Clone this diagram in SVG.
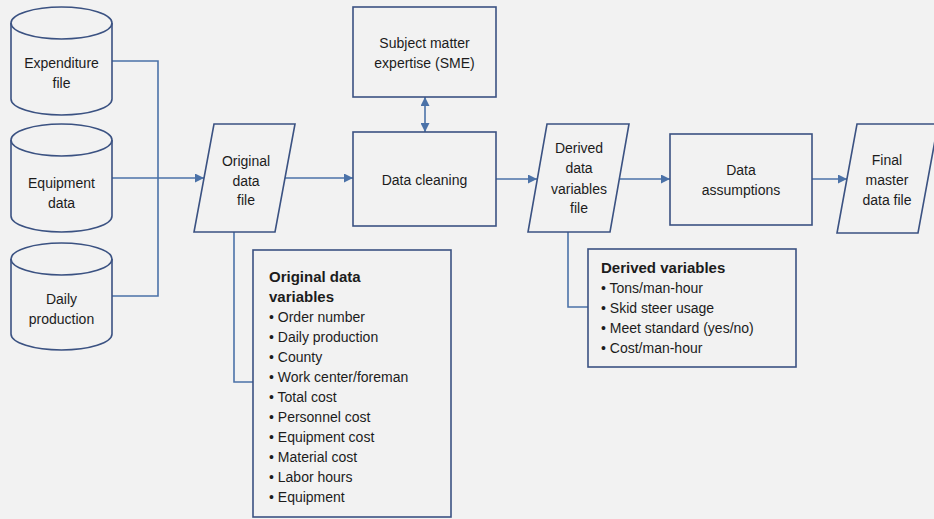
<svg xmlns="http://www.w3.org/2000/svg" width="934" height="519" viewBox="0 0 934 519">
<style>
.shape{fill:none;stroke:#3b5282;stroke-width:1.6}
.conn{fill:none;stroke:#4b72a8;stroke-width:1.6}
text{font-family:"Liberation Sans",Arial,sans-serif;font-size:14px;fill:#1c1c1c}
.c{text-anchor:middle}
.b{font-weight:bold}
</style>
<defs>
<marker id="ah" viewBox="0 0 10 10" refX="10" refY="5" markerWidth="9" markerHeight="9" markerUnits="userSpaceOnUse" orient="auto-start-reverse">
<path d="M0 0 L10 5 L0 10 Z" fill="#4b72a8"/>
</marker>
</defs>
<rect width="934" height="519" fill="#f2f2f2"/>

<g id="connectors">
<path class="conn" d="M112 61 H158 V178"/>
<path class="conn" d="M112 296 H158 V178"/>
<path class="conn" d="M112 178 H204" marker-end="url(#ah)"/>
<path class="conn" d="M285 178 H353" marker-end="url(#ah)"/>
<path class="conn" d="M425 97 V132" marker-start="url(#ah)" marker-end="url(#ah)"/>
<path class="conn" d="M496 179 H537" marker-end="url(#ah)"/>
<path class="conn" d="M619 179 H670" marker-end="url(#ah)"/>
<path class="conn" d="M812 179 H847" marker-end="url(#ah)"/>
<path class="conn" d="M234 232 V382 H253"/>
<path class="conn" d="M568 232 V307 H588"/>
</g>

<g id="expenditure">
<path class="shape" d="M11 23 V99 A50.5 16 0 0 0 112 99 V23"/>
<ellipse class="shape" cx="61.5" cy="23" rx="50.5" ry="16"/>
<text class="c" x="61.5" y="68">Expenditure</text>
<text class="c" x="61.5" y="88">file</text>
</g>

<g id="equipment">
<path class="shape" d="M11 140 V216 A50.5 16 0 0 0 112 216 V140"/>
<ellipse class="shape" cx="61.5" cy="140" rx="50.5" ry="16"/>
<text class="c" x="61.5" y="188">Equipment</text>
<text class="c" x="61.5" y="208">data</text>
</g>

<g id="daily">
<path class="shape" d="M11 259 V334 A50.5 16 0 0 0 112 334 V259"/>
<ellipse class="shape" cx="61.5" cy="259" rx="50.5" ry="16"/>
<text class="c" x="61.5" y="304">Daily</text>
<text class="c" x="61.5" y="324">production</text>
</g>

<g id="original-file">
<polygon class="shape" points="214,124 295,124 275,232 194,232"/>
<text class="c" x="246" y="166">Original</text>
<text class="c" x="246" y="186">data</text>
<text class="c" x="246" y="205">file</text>
</g>

<g id="sme">
<rect class="shape" x="353" y="7" width="143" height="90"/>
<text class="c" x="424.5" y="48">Subject matter</text>
<text class="c" x="424.5" y="68">expertise (SME)</text>
</g>

<g id="cleaning">
<rect class="shape" x="353" y="132" width="143" height="94"/>
<text class="c" x="424.5" y="185">Data cleaning</text>
</g>

<g id="derived-file">
<polygon class="shape" points="547,124 629,124 610,232 528,232"/>
<text class="c" x="579" y="153">Derived</text>
<text class="c" x="579" y="173">data</text>
<text class="c" x="579" y="194">variables</text>
<text class="c" x="579" y="213">file</text>
</g>

<g id="assumptions">
<rect class="shape" x="670" y="134" width="142" height="91"/>
<text class="c" x="741" y="175">Data</text>
<text class="c" x="741" y="195">assumptions</text>
</g>

<g id="final">
<polygon class="shape" points="857,124 938,124 918,233 837,233"/>
<text class="c" x="887" y="165">Final</text>
<text class="c" x="887" y="185">master</text>
<text class="c" x="887" y="205">data file</text>
</g>

<g id="original-vars">
<rect class="shape" x="253" y="250" width="198" height="267"/>
<text class="b" x="269" y="282" style="font-size:15px">Original data</text>
<text class="b" x="269" y="302" style="font-size:15px">variables</text>
<text x="269" y="322">• Order number</text>
<text x="269" y="342">• Daily production</text>
<text x="269" y="362">• County</text>
<text x="269" y="382">• Work center/foreman</text>
<text x="269" y="402">• Total cost</text>
<text x="269" y="422">• Personnel cost</text>
<text x="269" y="442">• Equipment cost</text>
<text x="269" y="462">• Material cost</text>
<text x="269" y="482">• Labor hours</text>
<text x="269" y="502">• Equipment</text>
</g>

<g id="derived-vars">
<rect class="shape" x="588" y="249" width="208" height="118"/>
<text class="b" x="601" y="273" style="font-size:15px">Derived variables</text>
<text x="601" y="293">• Tons/man-hour</text>
<text x="601" y="313">• Skid steer usage</text>
<text x="601" y="333">• Meet standard (yes/no)</text>
<text x="601" y="353">• Cost/man-hour</text>
</g>
</svg>
